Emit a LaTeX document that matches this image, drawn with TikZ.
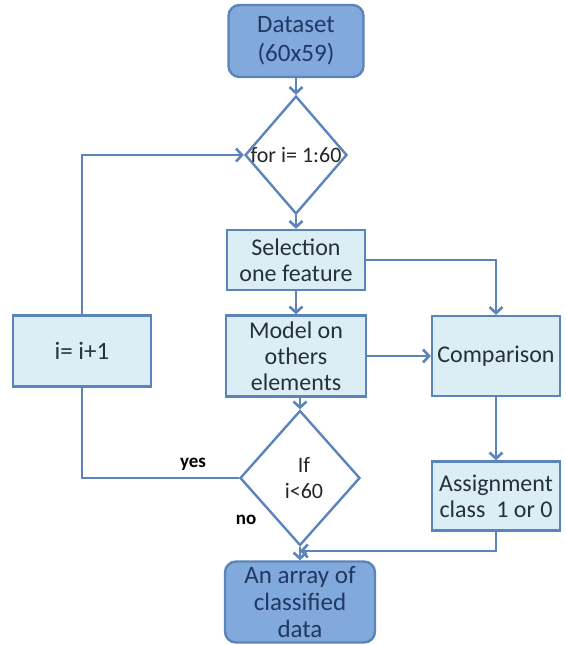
\documentclass[tikz,border=0pt]{standalone}
\usepackage{fontspec}
\setmainfont{Carlito}
\usetikzlibrary{arrows.meta, shapes.geometric, positioning}

\definecolor{boxline}{HTML}{5B84BA}
\definecolor{darkfill}{HTML}{82A9DB}
\definecolor{lightfill}{HTML}{DCEEF5}
\definecolor{darktext}{HTML}{203864}
\definecolor{boxtext}{HTML}{26303C}

\begin{document}
\begin{tikzpicture}[x=1pt, y=-1pt,
    link/.style={draw=boxline, line width=2.6pt},
    flow/.style={link, -{Straight Barb[length=6pt, width=13pt]}},
    endbox/.style={draw=boxline, line width=2.4pt, fill=darkfill, rounded corners=11pt,
        text=darktext, align=center, font=\fontsize{25}{29}\selectfont},
    procbox/.style={draw=boxline, line width=2.4pt, fill=lightfill,
        text=boxtext, align=center, font=\fontsize{24}{26}\selectfont},
    decision/.style={diamond, draw=boxline, line width=2.4pt, fill=white, inner sep=0pt},
    cond/.style={text=black!85, align=center, font=\fontsize{22}{26}\selectfont},
    answer/.style={text=black, font=\fontsize{19}{22}\selectfont\bfseries}]
    \useasboundingbox (0,0) rectangle (565,645);

    % MAIN COLUMN
    \node[endbox, minimum width=135, minimum height=72] (dataset) at (296,41) {Dataset\\(60x59)};
    \node[decision, minimum width=102, minimum height=118,
        label={[cond]center:for i= 1:60}] (fori) at (296,155) {};
    \node[procbox, minimum width=138, minimum height=60] (select) at (296,260) {Selection\\one feature};
    \node[procbox, minimum width=140, minimum height=81] (model) at (296,356) {Model on\\others\\elements};
    \node[decision, minimum width=120, minimum height=135,
        label={[cond, xshift=4pt]center:If\\i<60}] (ifnode) at (300,478) {};
    \node[endbox, minimum width=150, minimum height=81, font=\fontsize{25}{27}\selectfont,
        text depth=0pt] (result) at (300,602) {An array of\\classified\\data};

    % RIGHT COLUMN
    \node[procbox, minimum width=128, minimum height=80] (compare) at (496,356) {Comparison};
    \node[procbox, minimum width=128, minimum height=69] (assign) at (496,496) {Assignment\\class\ \ 1 or 0};

    % LOOP COUNTER
    \node[procbox, minimum width=138, minimum height=71, font=\fontsize{25}{27}\selectfont] (incr) at (82,351) {i= i+1};

    % Branch labels
    \node[answer] (yes) at (193,464) {yes};
    \node[answer] (no) at (246,520) {no};

    % Connectors
    \draw[flow] (dataset) -- (fori);
    \draw[flow] (fori) -- (select);
    \draw[flow] (select) -- (model);
    \draw[flow] (ifnode.north |- model.south) -- (ifnode.north);
    \draw[flow] (select.east) -| (compare.north);
    \draw[flow] (model.east) -- (compare.west);
    \draw[flow] (compare) -- (assign);
    \draw[flow] (ifnode.south) -- (result.north);
    \coordinate (merge) at (300,551);
    \draw[flow] (assign.south) |- (merge);
    \draw[link] (ifnode.west) -| (incr.south);
    \draw[flow] (incr.north) |- (fori.west);
\end{tikzpicture}
\end{document}
